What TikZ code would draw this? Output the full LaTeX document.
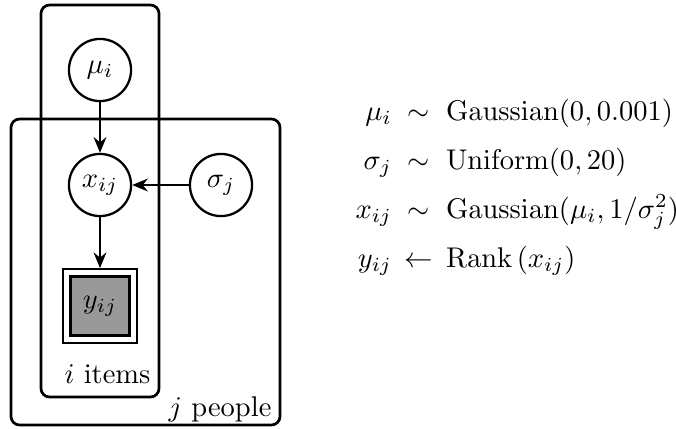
\documentclass[tikz,border=0pt]{standalone}
\usepackage{amsmath}
\usetikzlibrary{arrows.meta, positioning}

\begin{document}
\begin{tikzpicture}[x=0.351pt, y=-0.351pt,
  latent/.style={draw, circle, line width=0.8pt, minimum size=21.8pt, inner sep=1pt},
  obs/.style={draw, rectangle, line width=1pt, fill=black!40, minimum size=20.7pt, inner sep=0pt},
  obsframe/.style={draw, rectangle, line width=0.6pt, fill=white, minimum size=26pt},
  plate/.style={draw, line width=0.95pt, rounded corners=3pt},
  edge/.style={-{Stealth[length=5.5pt, width=4.5pt, inset=1.8pt]}, line width=0.7pt}]
  \useasboundingbox (0,0) rectangle (676,428);

  % plates
  \draw[plate] (41,5) rectangle (159,397);
  \draw[plate] (11,119) rectangle (280,425);
  \node[anchor=base east, inner sep=0pt] (itemslabel) at (151,383) {$i$ items};
  \node[anchor=base east, inner sep=0pt] (peoplelabel) at (272,416) {$j$ people};

  % variables
  \node[latent] (mu) at (100,70) {$\mu_i$};
  \node[latent] (x) at (100,185) {$x_{ij}$};
  \node[latent] (sigma) at (221,185) {$\sigma_j$};
  \node[obsframe] (yframe) at (100,306) {};
  \node[obs] (y) at (100,306) {$y_{ij}$};

  % edges
  \draw[edge] (mu) -- (x);
  \draw[edge] (sigma) -- (x);
  \draw[edge] (x) -- (yframe);

  % generative model
  \node[anchor=west, inner sep=0pt] (model) at (355,184) {\renewcommand{\arraystretch}{1.43}%
    $\begin{array}{@{}r@{\hspace{4.5pt}}c@{\hspace{4.5pt}}l@{}}
      \mu_i & \sim & \mathrm{Gaussian}(0, 0.001)\\
      \sigma_j & \sim & \mathrm{Uniform}(0, 20)\\
      x_{ij} & \sim & \mathrm{Gaussian}(\mu_i, 1/\sigma_j^2)\\
      y_{ij} & \leftarrow & \mathrm{Rank}\,(x_{ij})
    \end{array}$};
\end{tikzpicture}
\end{document}
